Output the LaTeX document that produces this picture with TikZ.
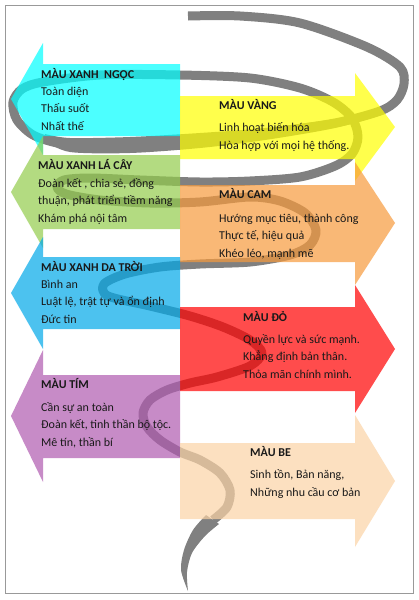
\documentclass[tikz,border=0pt]{standalone}
\usepackage{fontspec}
\setmainfont{Carlito}
\definecolor{cngoc}{RGB}{0,255,255}
\definecolor{cvang}{RGB}{255,255,0}
\definecolor{cla}{RGB}{147,204,76}
\definecolor{ccam}{RGB}{247,154,60}
\definecolor{ctroi}{RGB}{0,169,233}
\definecolor{cdo}{RGB}{255,0,0}
\definecolor{ctim}{RGB}{176,90,176}
\definecolor{cbe}{RGB}{251,211,166}
\definecolor{cxam}{RGB}{128,128,128}
\tikzset{
	%ribbon, arrows and text blocks
	ribbon/.style = {draw=cxam, line width=9pt, line cap=butt, line join=round},
	pointer/.style = {draw=none, fill opacity=0.7},
	txt/.style = {anchor=base west, align=left, inner sep=0pt,
                  font=\fontsize{12}{17.5}\selectfont, text=black!90}
}
\begin{document}
\begin{tikzpicture}[x=1pt, y=-1pt]
		\useasboundingbox (0,0) rectangle (419,600);
		\fill[white] (0,0) rectangle (419,600);
		
		% spiral ribbon
		\draw[ribbon] plot[smooth] coordinates {(188,16) (240,16) (300,23) (367,47) (400,67) (404,84)
			(397,100) (380,111) (335,123) (265,133) (200,140) (130,145) (70,145) (35,136) (17,120)
			(13,102) (22,89) (43,82) (100,75) (180,75) (250,78) (300,88) (333,102) (352,118) (358,137)
			(352,154) (335,166) (300,177) (250,181) (200,182) (140,180) (90,178) (64,180) (57,187)
			(66,194) (100,200) (150,203) (200,202) (250,197) (280,201) (305,213) (316,230) (310,245)
			(290,255) (250,262) (200,264) (160,267) (125,274) (104,284) (108,296) (150,306) (190,316)
			(223,327) (250,340) (262,353) (250,366) (217,377) (190,383) (167,390) (150,400) (143,413)
			(147,427) (160,440) (180,452) (200,460) (220,473) (230,490) (227,507) (213,520)};
		\fill[cxam] plot[smooth] coordinates {(385,108) (335,119) (265,128) (200,133) (130,137) (70,138) (45,134)}
			-- plot[smooth] coordinates {(45,141) (70,152) (130,153) (200,148) (265,140) (335,128) (385,114)} -- cycle;
		\fill[cxam] plot[smooth] coordinates {(206,515) (193,530) (184,550) (181,570) (188,591)}
			-- plot[smooth] coordinates {(188,591) (187,572) (192,553) (205,536) (219,524)} -- cycle;
		
		% arrows
		\fill[pointer, cngoc] (180,64) -- (43,64) -- (43,43) -- (11,99) -- (43,155) -- (43,136) -- (180,136) -- cycle;
		\fill[pointer, cvang] (180,96) -- (355,96) -- (355,73) -- (395,127) -- (355,181) -- (355,159) -- (180,159) -- cycle;
		\fill[pointer, cla]   (180,155) -- (43,155) -- (43,136) -- (11,192) -- (43,248) -- (43,229) -- (180,229) -- cycle;
		\fill[pointer, ccam]  (180,185) -- (355,185) -- (355,162) -- (395,223) -- (355,285) -- (355,262) -- (180,262) -- cycle;
		\fill[pointer, ctroi] (180,257) -- (43,257) -- (43,237) -- (11,293) -- (43,349) -- (43,329) -- (180,329) -- cycle;
		\fill[pointer, cdo]   (180,307) -- (355,307) -- (355,285) -- (395,349) -- (355,413) -- (355,391) -- (180,391) -- cycle;
		\fill[pointer, ctim]  (180,375) -- (43,375) -- (43,350) -- (11,416) -- (43,482) -- (43,458) -- (180,458) -- cycle;
		\fill[pointer, cbe]   (180,443) -- (355,443) -- (355,415) -- (395,481) -- (355,547) -- (355,519) -- (180,519) -- cycle;
		
		% texts (base = last line)
		\node (ngoc) [txt] at (41,130)  {\textbf{MÀU XANH~ NGỌC}\\[-0.5pt] Toàn diện\\ Thấu suốt\\ Nhất thế};
		\node (vang) [txt] at (219,149) {\textbf{MÀU VÀNG}\\[4.5pt] Linh hoạt biến hóa\\ Hòa hợp với mọi hệ thống.};
		\node (la)   [txt] at (38,222)  {\textbf{MÀU XANH LÁ CÂY}\\[0.5pt] Đoàn kết , chia sẻ, đồng\\ thuận, phát triển tiềm năng\\ Khám phá nội tâm};
		\node (cam)  [txt] at (219,257) {\textbf{MÀU CAM}\\[6.5pt] Hướng mục tiêu, thành công\\ Thực tế, hiệu quả\\ Khéo léo, mạnh mẽ};
		\node (troi) [txt] at (41,323)  {\textbf{MÀU XANH DA TRỜI}\\[-0.5pt] Bình an\\ Luật lệ, trật tự và ổn định\\ Đức tin};
		\node (do)   [txt] at (243,378) {\textbf{MÀU ĐỎ}\\[4.5pt] Quyền lực và sức mạnh.\\ Khẳng định bản thân.\\ Thỏa mãn chính mình.};
		\node (tim)  [txt] at (41,446)  {\textbf{MÀU TÍM}\\[5.5pt] Cần sự an toàn\\ Đoàn kết, tinh thần bộ tộc.\\ Mê tín, thần bí};
		\node (be)   [txt] at (250,496) {\textbf{MÀU BE}\\[4.5pt] Sinh tồn, Bản năng,\\ Những nhu cầu cơ bản};
		
		% frame
		\draw[gray!80, line width=1pt] (5.5,5.5) rectangle (413.5,593.5);
	\end{tikzpicture}
\end{document}
